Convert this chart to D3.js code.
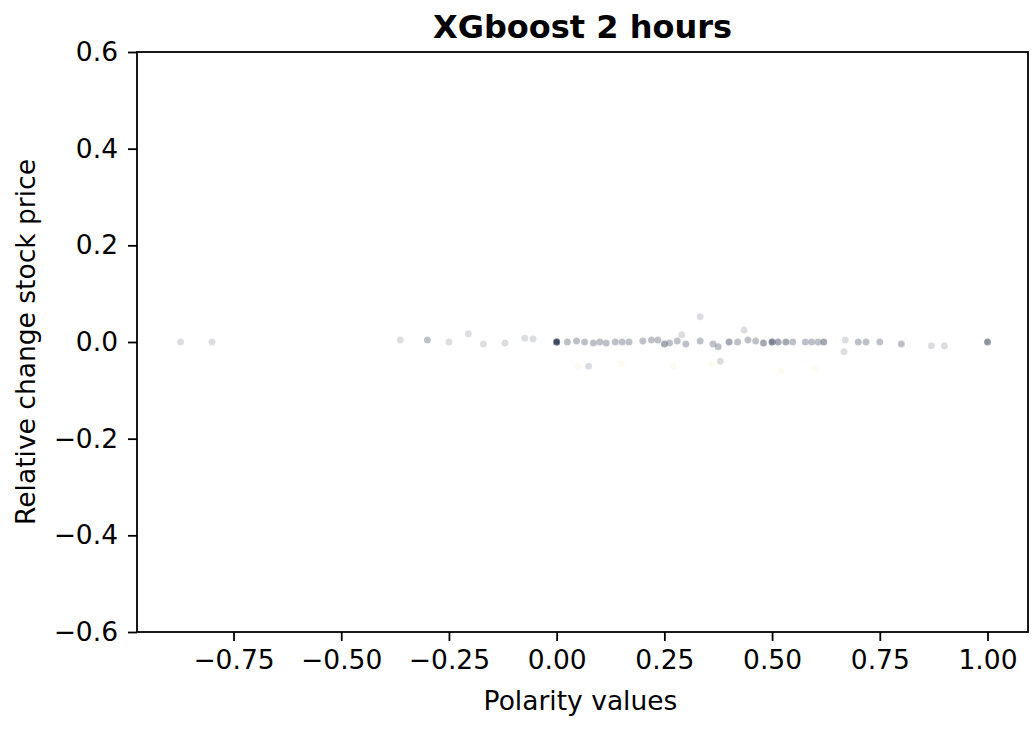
<!DOCTYPE html>
<html>
<head>
<meta charset="utf-8">
<script src="https://cdn.jsdelivr.net/npm/d3@7"></script>
<style>
  body { margin: 0; background: #fff; }
  text { font-family: "DejaVu Sans", sans-serif; fill: #000; }
</style>
</head>
<body>
<div id="chart"></div>
<script>
// polarity of each observation, relative price change, how many overlap there
var polarity = [-0.873, -0.80, -0.363, -0.30, -0.25, -0.205, -0.17, -0.12, -0.074, -0.055,
    0.00, 0.025, 0.046, 0.065, 0.074, 0.085, 0.10, 0.115, 0.136, 0.152, 0.168,
    0.20, 0.22, 0.235, 0.25, 0.262, 0.28, 0.29, 0.30, 0.333, 0.333, 0.363, 0.375, 0.38,
    0.40, 0.42, 0.435, 0.444, 0.462, 0.48, 0.50, 0.514, 0.532, 0.548, 0.577, 0.592,
    0.607, 0.62, 0.667, 0.67, 0.70, 0.718, 0.75, 0.80, 0.87, 0.90, 1.00];
var change = [0, 0, 0.004, 0.004, 0, 0.017, -0.004, -0.002, 0.008, 0.006,
    0, 0, 0.002, 0, -0.05, -0.002, 0, -0.002, 0, 0, 0,
    0.002, 0.004, 0.004, -0.004, -0.002, 0.002, 0.015, -0.004, 0.052, 0.002, -0.004, -0.01, -0.04,
    0, 0, 0.025, 0.004, 0.002, -0.002, 0, 0, 0, 0, 0, 0,
    0, 0, -0.02, 0.004, 0, 0, 0, -0.004, -0.008, -0.008, 0];
var count = [1, 1, 1, 2, 1, 1, 1, 1, 1, 1,
    12, 2, 2, 2, 1, 2, 2, 2, 2, 2, 2,
    2, 2, 2, 3, 2, 2, 1, 2, 1, 2, 2, 2, 1,
    3, 2, 1, 2, 2, 3, 5, 3, 3, 2, 2, 2,
    2, 3, 1, 1, 2, 2, 2, 2, 1, 1, 4];

// very faint light points under the line
var lightX = [0.05, 0.15, 0.27, 0.36, 0.52, 0.6];
var lightY = [-0.05, -0.045, -0.05, -0.045, -0.06, -0.055];

var xTicks = [-0.75, -0.5, -0.25, 0, 0.25, 0.5, 0.75, 1.0];
var yTicks = [-0.6, -0.4, -0.2, 0, 0.2, 0.4, 0.6];

(function () {
    var width = 1033, height = 731;
    var mLeft = 137, mRight = 1028, mTop = 52, mBottom = 632;

    var svg = d3.select('#chart').append('svg')
        .attr('width', width)
        .attr('height', height);

    var x = d3.scaleLinear().domain([-0.974, 1.094]).range([mLeft, mRight]);
    var y = d3.scaleLinear().domain([-0.6, 0.6]).range([mBottom, mTop]);

    var minus = function (s) { return s.replace('-', '\u2212'); };

    // points, repeated where they overlap
    var pts = [];
    polarity.forEach(function (p, i) {
        for (var k = 0; k < count[i]; k++) pts.push([p, change[i]]);
    });

    svg.append('g')
        .selectAll('circle')
        .data(lightX)
        .enter()
        .append('circle')
        .attr('cx', function (d) { return x(d); })
        .attr('cy', function (d, i) { return y(lightY[i]); })
        .attr('r', 3.5)
        .style('fill', '#f2e7a0')
        .style('fill-opacity', 0.15);

    svg.append('g')
        .selectAll('circle')
        .data(pts)
        .enter()
        .append('circle')
        .attr('cx', function (d) { return x(d[0]); })
        .attr('cy', function (d) { return y(d[1]); })
        .attr('r', 3.5)
        .style('fill', '#2c3550')
        .style('fill-opacity', 0.17)
        .style('stroke', '#fff')
        .style('stroke-opacity', 0.17)
        .style('stroke-width', 0.6);

    // axes
    var xAxis = d3.axisBottom(x).tickValues(xTicks)
        .tickFormat(function (d) { return minus(d3.format('.2f')(d)); })
        .tickSize(9).tickPadding(9);
    var yAxis = d3.axisLeft(y).tickValues(yTicks)
        .tickFormat(function (d) { return minus(d3.format('.1f')(d)); })
        .tickSize(9).tickPadding(10);

    var gx = svg.append('g').attr('transform', 'translate(0,' + mBottom + ')').call(xAxis);
    var gy = svg.append('g').attr('transform', 'translate(' + mLeft + ',0)').call(yAxis);
    [gx, gy].forEach(function (g) {
        g.select('.domain').remove();
        g.selectAll('line').style('stroke', '#000').style('stroke-width', 1.8);
        g.selectAll('text').style('font-size', '26.5px').style('font-family', '"DejaVu Sans", sans-serif');
    });

    svg.append('rect')
        .attr('x', mLeft).attr('y', mTop)
        .attr('width', mRight - mLeft).attr('height', mBottom - mTop)
        .style('fill', 'none').style('stroke', '#000').style('stroke-width', 1.8);

    // labels
    svg.append('text')
        .attr('x', (mLeft + mRight) / 2).attr('y', 38)
        .attr('text-anchor', 'middle')
        .style('font-size', '32px').style('font-weight', 'bold')
        .text('XGboost 2 hours');

    svg.append('text')
        .attr('x', (mLeft + mRight) / 2 - 2).attr('y', 710)
        .attr('text-anchor', 'middle')
        .style('font-size', '26.5px')
        .text('Polarity values');

    svg.append('text')
        .attr('transform', 'translate(35,' + ((mTop + mBottom) / 2) + ') rotate(-90)')
        .attr('text-anchor', 'middle')
        .style('font-size', '26.5px')
        .text('Relative change stock price');
})();
</script>
</body>
</html>
